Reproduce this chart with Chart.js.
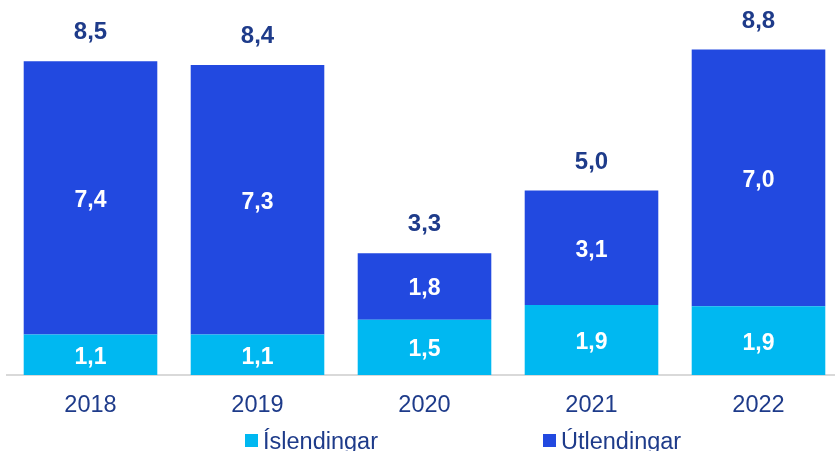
<!DOCTYPE html>
<html>
<head>
<meta charset="utf-8">
<script src="https://cdn.jsdelivr.net/npm/chart.js@4"></script>
<style>
  html, body { margin: 0; padding: 0; background: #fff; overflow: hidden; }
  #wrap { width: 842px; height: 451px; }
</style>
</head>
<body>
<div id="wrap"><canvas id="chart" width="842" height="451"></canvas></div>
<script>
const years = ['2018', '2019', '2020', '2021', '2022'];
const islendingar = [1.1, 1.1, 1.5, 1.9, 1.86];
const utlendingar = [7.4, 7.3, 1.8, 3.1, 6.96];
const seriesNames = ['Íslendingar', 'Útlendingar'];

const navy = '#1E3B8A';
const lightBlue = '#00B8F1';
const darkBlue = '#2249E0';

const fmt = v => v.toFixed(1).replace('.', ',');

// white value labels inside segments + totals above + legend under the axis
const labelPlugin = {
    id: 'labels',
    afterDatasetsDraw(chart) {
        const ctx = chart.ctx;
        ctx.save();
        ctx.textAlign = 'center';

        chart.data.datasets.forEach((ds, di) => {
            const meta = chart.getDatasetMeta(di);
            meta.data.forEach((bar, i) => {
                const mid = (bar.y + bar.base) / 2;
                ctx.fillStyle = '#fff';
                ctx.font = 'bold 23px "Liberation Sans", Arial, sans-serif';
                ctx.textBaseline = 'middle';
                ctx.fillText(fmt(ds.data[i]), bar.x, mid + 2.5);
            });
        });

        const top = chart.getDatasetMeta(1);
        top.data.forEach((bar, i) => {
            const total = islendingar[i] + utlendingar[i];
            ctx.fillStyle = navy;
            ctx.font = 'bold 24px "Liberation Sans", Arial, sans-serif';
            ctx.textBaseline = 'alphabetic';
            ctx.fillText(fmt(total), bar.x, bar.y - 22);
        });

        // legend
        const items = [
            { x: 245, color: lightBlue, text: seriesNames[0] },
            { x: 543, color: darkBlue, text: seriesNames[1] }
        ];
        ctx.textAlign = 'left';
        ctx.textBaseline = 'alphabetic';
        ctx.font = '23.5px "Liberation Sans", Arial, sans-serif';
        items.forEach(it => {
            ctx.fillStyle = it.color;
            ctx.fillRect(it.x, 434, 13, 13);
            ctx.fillStyle = navy;
            ctx.fillText(it.text, it.x + 18, 449);
        });
        ctx.restore();
    }
};

new Chart(document.getElementById('chart'), {
    type: 'bar',
    data: {
        labels: years,
        datasets: [
            { label: seriesNames[0], data: islendingar, backgroundColor: lightBlue },
            { label: seriesNames[1], data: utlendingar, backgroundColor: darkBlue }
        ]
    },
    options: {
        responsive: false,
        animation: false,
        layout: { padding: { left: 7, top: 6, right: 0, bottom: 0 } },
        datasets: {
            bar: { barPercentage: 0.8, categoryPercentage: 1.0 }
        },
        scales: {
            x: {
                stacked: true,
                grid: { display: false, drawTicks: false },
                border: { display: true, color: '#D9D9D9', width: 2 },
                ticks: {
                    color: navy,
                    padding: 16,
                    font: { family: '"Liberation Sans", Arial, sans-serif', size: 23.5 }
                },
                afterFit: scale => { scale.height = 76; }
            },
            y: {
                stacked: true,
                display: false,
                min: 0,
                max: 10
            }
        },
        plugins: {
            legend: { display: false },
            tooltip: { enabled: false }
        }
    },
    plugins: [labelPlugin]
});
</script>
</body>
</html>
